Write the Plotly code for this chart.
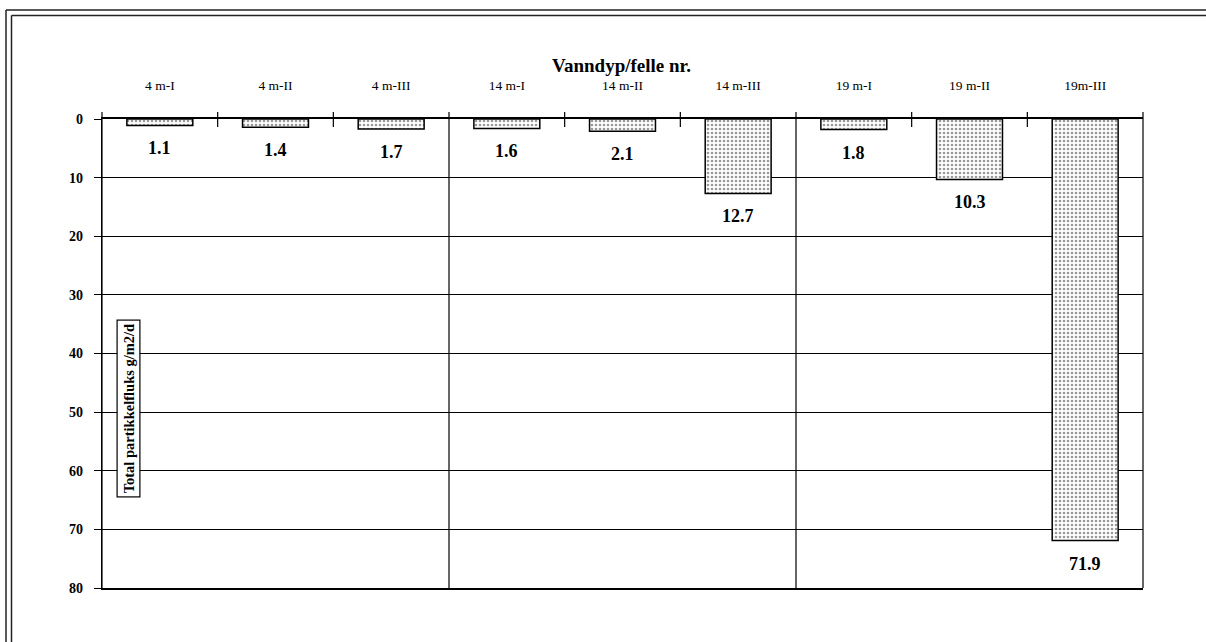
import plotly.graph_objects as go

categories = ["4 m-I", "4 m-II", "4 m-III", "14 m-I", "14 m-II", "14 m-III",
              "19 m-I", "19 m-II", "19m-III"]
values = [1.1, 1.4, 1.7, 1.6, 2.1, 12.7, 1.8, 10.3, 71.9]
y_ticks = [0, 10, 20, 30, 40, 50, 60, 70, 80]
x_title = "Vanndyp/felle nr."
y_title = "Total partikkelfluks g/m2/d"
group_size = 3

SERIF = "Liberation Serif, Times New Roman, serif"
W, H = 1206, 642
L, R, T, B = 102, 63, 119, 54
PW, PH = W - L - R, H - T - B


def px_x(p):
    return (p - L) / PW


def px_y(p):
    return 1 - (p - T) / PH


fig = go.Figure()
fig.add_trace(go.Bar(
    x=categories, y=values, width=0.57,
    marker=dict(color="white",
                line=dict(color="black", width=1.5),
                pattern=dict(shape=".", fgcolor="#333333", bgcolor="white",
                             size=4, solidity=0.35)),
    hoverinfo="x+y", showlegend=False,
))

annotations = []
for c, v in zip(categories, values):
    annotations.append(dict(x=c, y=v, xref="x", yref="y", text=f"{v:.1f}",
                            showarrow=False, yshift=-23, yanchor="middle",
                            font=dict(family=SERIF, size=18, color="black", weight="bold")))

annotations.append(dict(x=px_x(621), y=px_y(65), xref="paper", yref="paper", text=x_title,
                        showarrow=False, yanchor="middle", xanchor="center",
                        font=dict(family=SERIF, size=19, color="black", weight="bold")))
annotations.append(dict(x=px_x(128.5), y=px_y(409), xref="paper", yref="paper", text=y_title,
                        showarrow=False, textangle=-90, bordercolor="black", borderwidth=1.2,
                        borderpad=3, bgcolor="white", xanchor="center", yanchor="middle",
                        font=dict(family=SERIF, size=14.5, color="black", weight="bold")))

n = len(categories)
shapes = []
for k in range(1, n + 1):
    frac = k / n
    if k % group_size == 0:
        shapes.append(dict(type="line", xref="x domain", yref="paper",
                           x0=frac, x1=frac, y0=px_y(112), y1=0,
                           line=dict(color="black", width=1.2)))
    else:
        shapes.append(dict(type="line", xref="x domain", yref="paper",
                           x0=frac, x1=frac, y0=px_y(112), y1=px_y(127),
                           line=dict(color="black", width=1.2)))
# left axis extension above zero line
shapes.append(dict(type="line", xref="paper", yref="paper", x0=0, x1=0,
                   y0=px_y(112), y1=0, line=dict(color="black", width=1.2)))

# double outer frame (top and left edges; the rest lies outside the picture)
for off in [6, 11.5]:
    shapes.append(dict(type="line", xref="paper", yref="paper",
                       x0=px_x(off), x1=px_x(W), y0=px_y(off + 4), y1=px_y(off + 4),
                       line=dict(color="#222222", width=1.5)))
    shapes.append(dict(type="line", xref="paper", yref="paper",
                       x0=px_x(off), x1=px_x(off), y0=px_y(off + 4), y1=px_y(H),
                       line=dict(color="#222222", width=1.5)))

fig.update_layout(
    width=W, height=H,
    margin=dict(l=L, r=R, t=T, b=B),
    paper_bgcolor="white", plot_bgcolor="white",
    bargap=0.43,
    annotations=annotations,
    shapes=shapes,
    xaxis=dict(side="top", type="category", showgrid=False, zeroline=False,
               showline=True, mirror=True, linecolor="black", linewidth=1.5,
               ticks="", ticklabelstandoff=22,
               tickfont=dict(family=SERIF, size=13.5, color="black")),
    yaxis=dict(range=[80, 0], tickvals=y_ticks, showgrid=True, gridcolor="black",
               gridwidth=1, zeroline=False, showline=True, linecolor="black",
               linewidth=1.2, mirror=False, ticks="outside", ticklen=7,
               tickcolor="black", tickwidth=1, ticklabelstandoff=8,
               tickfont=dict(family=SERIF, size=14, color="black", weight="bold")),
)

fig.write_html("out.html",
               config={"displayModeBar": False},
               post_script="document.body.style.margin='0';"
                           "document.body.style.padding='0';"
                           "document.body.style.overflow='hidden';"
                           "document.documentElement.style.overflow='hidden';")
